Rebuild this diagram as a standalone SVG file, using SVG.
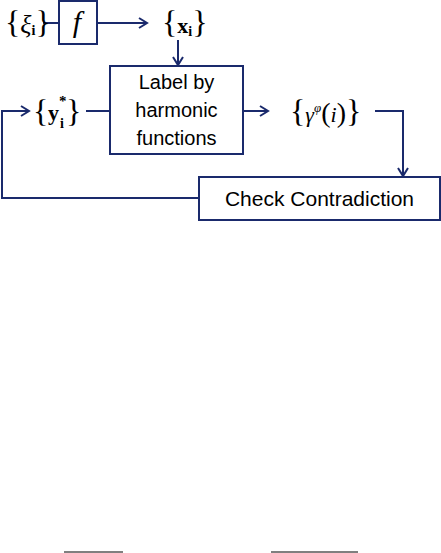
<svg xmlns="http://www.w3.org/2000/svg" width="441" height="553" viewBox="0 0 441 553">
<style>
.box{fill:#fff;stroke:#1a2a6c;stroke-width:2}
.ln{fill:none;stroke:#1a2a6c;stroke-width:2}
.t{font-family:"Liberation Sans",Arial,sans-serif;font-size:20px;fill:#000;text-anchor:middle}
.m{font-family:"Liberation Serif","Times New Roman",serif;fill:#000}
.br{font-size:32px;font-weight:normal}
</style>
<defs>
<marker id="ah" markerWidth="12" markerHeight="12" refX="10" refY="6" orient="auto" markerUnits="userSpaceOnUse">
<path d="M2,1 L10,6 L2,11" fill="none" stroke="#1a2a6c" stroke-width="2"/>
</marker>
</defs>
<rect width="441" height="553" fill="#fff"/>
<g id="connectors">
<line class="ln" x1="43" y1="23" x2="59" y2="23"/>
<line class="ln" x1="97" y1="23" x2="147" y2="23" marker-end="url(#ah)"/>
<line class="ln" x1="178" y1="40" x2="178" y2="65" marker-end="url(#ah)"/>
<line class="ln" x1="86" y1="111" x2="110" y2="111"/>
<line class="ln" x1="243" y1="111" x2="268" y2="111" marker-end="url(#ah)"/>
<polyline class="ln" points="375,111 403,111 403,176" marker-end="url(#ah)"/>
<polyline class="ln" points="199,198 2,198 2,111 29,111" marker-end="url(#ah)"/>
</g>
<g id="xi">
<text class="m" x="5" y="33"><tspan class="br">{</tspan><tspan font-size="26" font-style="italic">ξ</tspan><tspan font-size="14" font-weight="bold" dy="2">i</tspan><tspan class="br" dy="-2">}</tspan></text>
</g>
<g id="f">
<rect class="box" x="59" y="1" width="38" height="43"/>
<text class="m" x="77" y="32" font-size="30" font-style="italic" text-anchor="middle">f</text>
</g>
<g id="x">
<text class="m" x="162" y="33"><tspan class="br">{</tspan><tspan font-size="22" font-weight="bold">x</tspan><tspan font-size="14" font-weight="bold" dy="3">i</tspan><tspan class="br" dy="-3">}</tspan></text>
</g>
<g id="label">
<rect class="box" x="110" y="66" width="133" height="88"/>
<text class="t" x="176.5" y="89">Label by</text>
<text class="t" x="176.5" y="117">harmonic</text>
<text class="t" x="176.5" y="145">functions</text>
</g>
<g id="y">
<text class="m br" x="33" y="122">{</text>
<text class="m" x="48" y="120" font-size="22" font-weight="bold">y</text>
<text class="m" x="60" y="128" font-size="14" font-weight="bold">i</text>
<text class="m" x="59" y="106" font-size="15" font-weight="bold">*</text>
<text class="m br" x="66" y="122">}</text>
</g>
<g id="gamma">
<text class="m" x="290" y="122"><tspan class="br">{</tspan><tspan font-size="22" font-style="italic">γ</tspan><tspan font-size="13" font-style="italic" dy="-10">φ</tspan><tspan font-size="28" dy="10">(</tspan><tspan font-size="22" font-style="italic">i</tspan><tspan font-size="28">)</tspan><tspan class="br">}</tspan></text>
</g>
<g id="check">
<rect class="box" x="199" y="177" width="241" height="43"/>
<text class="t" x="319.5" y="206" style="font-size:21px">Check Contradiction</text>
</g>
<g id="bottom">
<line x1="64" y1="552" x2="123" y2="552" stroke="#000" stroke-width="1"/>
<line x1="271" y1="552" x2="358" y2="552" stroke="#000" stroke-width="1"/>
</g>
</svg>
